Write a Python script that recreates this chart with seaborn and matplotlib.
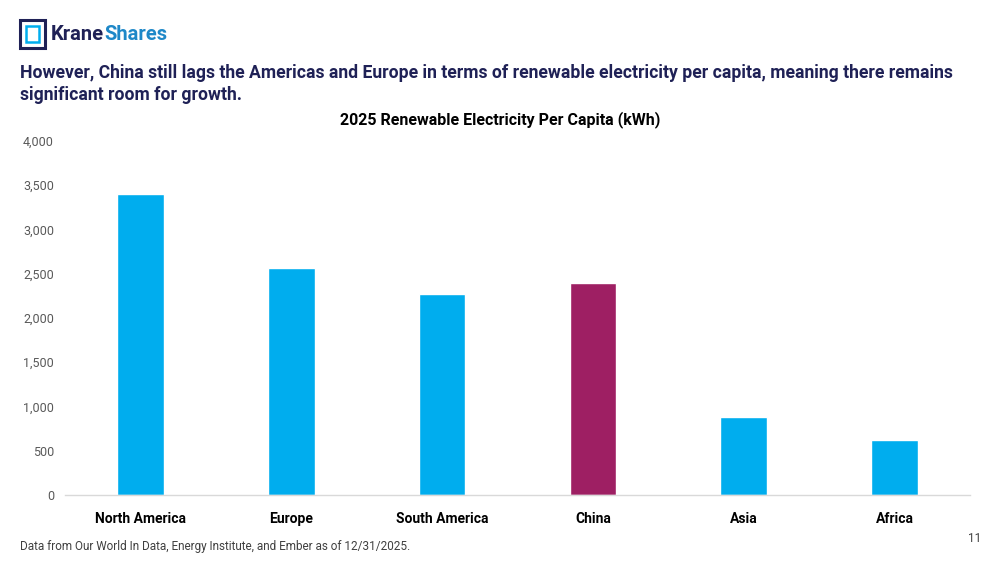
import numpy as np
import pandas as pd
import matplotlib
matplotlib.use("Agg")
import matplotlib.pyplot as plt
import matplotlib.patches as patches
import seaborn as sns

regions = ["North America", "Europe", "South America", "China", "Asia", "Africa"]
kwh_per_capita = [3400, 2560, 2270, 2390, 885, 618]
bar_colors = ["#00ADEE", "#00ADEE", "#00ADEE", "#9E1F63", "#00ADEE", "#00ADEE"]
y_ticks = [0, 500, 1000, 1500, 2000, 2500, 3000, 3500, 4000]

navy = "#1F2156"

sns.set_style("white")
plt.rcParams['font.family'] = ['Roboto', 'DejaVu Sans']

df = pd.DataFrame({"region": regions, "kwh": kwh_per_capita})

fig = plt.figure(figsize=(10, 5.63), dpi=100)
ax = fig.add_axes([0.065, 0.1208, 0.905, 0.6288])
sns.barplot(data=df, x="region", y="kwh", hue="region", palette=bar_colors,
            width=0.31, legend=False, ax=ax, saturation=1)

ax.set_xlim(-0.5, 5.5)
ax.set_ylim(0, 4000)
ax.set_yticks(y_ticks)
ax.set_yticklabels([f"{v:,}" for v in y_ticks], color="#595959", fontsize=9)
ax.set_xlabel("")
ax.set_ylabel("")
for lab in ax.get_xticklabels():
    lab.set_fontweight("bold")
    lab.set_fontsize(10)
    lab.set_color("black")
ax.tick_params(axis="both", length=0)
ax.tick_params(axis="x", pad=12)
ax.tick_params(axis="y", pad=8)
for s in ["top", "right", "left"]:
    ax.spines[s].set_visible(False)
ax.spines["bottom"].set_color("#D9D9D9")
ax.spines["bottom"].set_linewidth(1)

# title sits centred on the page, not on the axes
ax.set_title("2025 Renewable Electricity Per Capita (kWh)", fontsize=11.5,
             fontweight="bold", color="black", pad=12, x=(0.5 - 0.065) / 0.905)

# logo
fig.patches.append(patches.Rectangle((0.02, 1 - 48 / 563), 0.025, 28 / 563,
                                     transform=fig.transFigure, fill=False,
                                     edgecolor=navy, linewidth=2.2))
fig.patches.append(patches.Rectangle((0.026, 1 - 42 / 563), 0.013, 16 / 563,
                                     transform=fig.transFigure, fill=False,
                                     edgecolor="#00ADEE", linewidth=1.8))
krane = fig.text(0.051, 1 - 34 / 563, "Krane", fontsize=14.5, fontweight="bold",
                 color=navy, va="center")
fig.canvas.draw()
bb = krane.get_window_extent(renderer=fig.canvas.get_renderer())
fig.text(bb.x1 / fig.bbox.width, 1 - 34 / 563, "Shares", fontsize=14.5,
         fontweight="bold", color="#1E88C8", va="center")

fig.text(0.02, 1 - 78 / 563,
         "However, China still lags the Americas and Europe in terms of renewable electricity per capita, meaning there remains",
         fontsize=12.7, fontweight="bold", color=navy, va="baseline")
fig.text(0.02, 1 - 100 / 563, "significant room for growth.",
         fontsize=12.7, fontweight="bold", color=navy, va="baseline")

fig.text(0.02, 1 - 550 / 563,
         "Data from Our World In Data, Energy Institute, and Ember as of 12/31/2025.",
         fontsize=8.5, color="#404040", va="baseline")
fig.text(0.981, 1 - 542 / 563, "11", fontsize=8.5, color="#404040",
         va="baseline", ha="right")

plt.savefig("out.png", dpi=100)
